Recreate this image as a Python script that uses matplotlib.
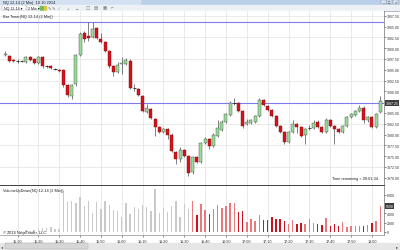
import matplotlib
matplotlib.use("Agg")
import matplotlib.pyplot as plt
from matplotlib.patches import Rectangle, Polygon

plt.rcParams['font.family'] = ['Liberation Sans', 'DejaVu Sans']

W, H = 400, 251

# 2 min bars, first bar 15:04
opens = [3898.50, 3898.25, 3897.25, 3897.00, 3897.00, 3896.75, 3898.00, 3897.50, 3896.50, 3898.00,
         3895.75, 3895.75, 3895.25, 3895.00, 3895.00, 3891.50, 3889.00, 3891.75, 3898.50, 3903.50,
         3902.75, 3902.50, 3904.75, 3902.00, 3901.50, 3899.25, 3895.75, 3894.50, 3896.25, 3896.25,
         3897.00, 3890.75, 3890.50, 3889.00, 3885.25, 3886.00, 3883.50, 3881.75, 3880.50, 3881.25,
         3880.00, 3876.00, 3874.25, 3876.50, 3875.00, 3871.25, 3874.75, 3873.75, 3878.00, 3879.00,
         3877.25, 3879.75, 3881.00, 3883.00, 3884.50, 3887.25, 3887.25, 3885.50, 3882.50, 3882.75,
         3883.00, 3884.25, 3888.00, 3886.50, 3885.75, 3884.25, 3882.00, 3880.50, 3878.25, 3880.50,
         3882.50, 3881.75, 3880.00, 3881.50, 3881.50, 3883.00, 3881.75, 3880.50, 3883.25, 3882.00,
         3881.25, 3880.50, 3882.00, 3884.00, 3884.50, 3885.50, 3886.25, 3883.25, 3884.00, 3881.75,
         3885.25]
highs = [3899.25, 3898.50, 3897.50, 3897.50, 3897.25, 3898.25, 3898.25, 3897.75, 3898.25, 3898.25,
         3896.00, 3896.00, 3895.50, 3895.25, 3895.25, 3891.75, 3891.75, 3898.75, 3903.75, 3904.00,
         3906.00, 3906.00, 3905.00, 3903.50, 3901.75, 3899.50, 3896.00, 3896.75, 3898.00, 3897.75,
         3897.50, 3891.75, 3890.75, 3889.25, 3887.00, 3886.25, 3883.75, 3882.00, 3881.50, 3881.50,
         3880.25, 3876.25, 3877.00, 3876.75, 3875.25, 3875.00, 3875.00, 3878.25, 3879.50, 3879.25,
         3880.25, 3883.25, 3883.25, 3885.00, 3887.75, 3888.50, 3887.50, 3885.75, 3883.50, 3883.50,
         3884.50, 3888.50, 3888.25, 3886.75, 3886.00, 3884.50, 3882.25, 3880.75, 3880.75, 3883.25,
         3882.75, 3882.00, 3881.50, 3882.25, 3883.25, 3883.25, 3882.00, 3883.75, 3883.50, 3882.25,
         3881.50, 3882.25, 3884.25, 3885.00, 3885.75, 3886.75, 3886.50, 3884.25, 3884.25, 3885.00,
         3889.00]
lows = [3898.25, 3896.75, 3896.75, 3896.50, 3896.75, 3896.50, 3897.00, 3896.25, 3896.25, 3895.50,
        3895.50, 3895.25, 3895.00, 3894.50, 3891.00, 3888.75, 3888.25, 3891.25, 3898.25, 3901.50,
        3901.75, 3902.25, 3902.00, 3901.25, 3899.00, 3895.50, 3893.50, 3894.25, 3894.00, 3896.00,
        3890.50, 3890.00, 3889.00, 3885.25, 3885.00, 3883.50, 3879.75, 3880.25, 3880.25, 3879.00,
        3876.00, 3873.25, 3873.75, 3874.75, 3870.50, 3870.75, 3873.50, 3873.50, 3877.75, 3876.75,
        3877.00, 3879.50, 3880.75, 3882.75, 3884.25, 3886.75, 3885.25, 3881.50, 3882.25, 3882.50,
        3882.75, 3884.00, 3886.50, 3885.50, 3884.00, 3881.75, 3880.25, 3877.75, 3878.00, 3880.25,
        3880.25, 3879.50, 3877.75, 3881.00, 3881.25, 3881.50, 3880.25, 3880.25, 3881.75, 3877.75,
        3880.25, 3880.25, 3881.75, 3883.75, 3884.25, 3885.25, 3882.75, 3883.00, 3881.50, 3881.50,
        3885.00]
closes = [3898.75, 3897.00, 3897.00, 3897.00, 3897.00, 3898.00, 3897.25, 3896.50, 3898.00, 3895.75,
          3895.75, 3895.50, 3895.25, 3894.75, 3891.50, 3889.25, 3891.50, 3898.50, 3903.25, 3902.00,
          3902.25, 3904.50, 3902.25, 3901.50, 3899.25, 3895.75, 3894.50, 3896.00, 3896.50, 3897.25,
          3890.75, 3890.75, 3889.25, 3885.50, 3886.25, 3883.75, 3881.75, 3880.50, 3881.25, 3880.00,
          3876.25, 3874.25, 3876.50, 3875.00, 3871.00, 3874.75, 3873.75, 3878.00, 3879.00, 3877.25,
          3880.00, 3881.50, 3883.00, 3884.75, 3887.25, 3887.25, 3885.50, 3882.00, 3883.00, 3883.25,
          3884.25, 3888.00, 3886.75, 3885.75, 3884.25, 3882.00, 3880.50, 3878.25, 3880.50, 3882.50,
          3881.75, 3879.75, 3881.25, 3881.50, 3882.75, 3881.75, 3880.50, 3883.25, 3882.00, 3881.25,
          3880.50, 3882.00, 3884.00, 3884.75, 3885.50, 3886.25, 3883.25, 3884.00, 3881.75, 3884.75,
          3887.75]
volumes = [300, 250, 200, 300, 250, 400, 300, 350, 700, 900,
           800, 1000, 600, 700, 8800, 6450, 6650, 6250, 7500, 5600,
           6650, 4100, 6450, 4950, 6650, 5800, 4750, 4500, 3200, 6250,
           3850, 5400, 4950, 5800, 5400, 4500, 9250, 4100, 5150, 4300,
           5600, 6650, 3200, 6000, 4950, 6650, 3650, 6000, 4730, 3870,
           4950, 5800, 5160, 5590, 6240, 6240, 4300, 4520, 2150, 2800,
           2370, 3660, 2580, 2580, 3230, 2800, 2800, 2370, 1720, 2580,
           1720, 1940, 1720, 2800, 1940, 1720, 1500, 3010, 1290, 1720,
           1290, 2150, 1075, 1290, 1290, 1290, 1290, 1500, 1940, 2370,
           5590]
first_red_volume = 45

time_labels = ['15:10', '15:20', '15:30', '15:40', '15:50', '16:00', '16:10', '16:20', '16:30',
               '16:40', '16:50', '17:00', '17:10', '17:20', '17:30', '17:40', '17:50', '18:00']
time_label_bars = [3, 8, 13, 18, 23, 28, 33, 38, 43, 48, 53, 58, 63, 68, 73, 78, 83, 88]
price_ticks = [3907.50, 3905.00, 3902.50, 3900.00, 3897.50, 3895.00, 3892.50, 3890.00,
               3887.50, 3885.00, 3882.50, 3880.00, 3877.50, 3875.00, 3872.50, 3870.00]
volume_ticks = [0, 2000, 4000, 6000, 8000]
lines_at = [3906.00, 3887.25]

fig = plt.figure(figsize=(4.0, 2.51), dpi=100)
fig.patch.set_facecolor('#f0f0f0')


def px_axes(x, y, w, h):
    return fig.add_axes([x / W, 1 - (y + h) / H, w / W, h / H])


# window chrome
bg = px_axes(0, 0, W, H)
bg.set_xlim(0, W)
bg.set_ylim(H, 0)
bg.axis('off')
bg.add_patch(Rectangle((0, 0), W, 5.5, color='#b9cfea'))
bg.add_patch(Rectangle((0, 0), 140, 5.5, color='#d3e1f3'))
bg.text(3, 2.9, 'NQ 12-14 (2 Min)  10.10.2014', fontsize=2.8, va='center', color='#202020')
for k, g in enumerate(['_', '□', '×']):
    bg.add_patch(Rectangle((381 + k * 6, 0.6), 5, 4.2, facecolor='#dfe7f2', edgecolor='#8090a8', lw=0.3))
    bg.text(383.5 + k * 6, 2.7, g, fontsize=2.8, ha='center', va='center', color='#303030')
bg.add_patch(Rectangle((0, 5.5), W, 6.3, color='#edf1f6'))
bg.add_patch(Rectangle((2, 6.3), 24, 4.6, facecolor='white', edgecolor='#a0a8b4', lw=0.3))
bg.text(3.5, 8.7, 'NQ 12-14 ▾', fontsize=2.6, va='center', color='#202020')
bg.add_patch(Rectangle((27, 6.3), 12, 4.6, facecolor='white', edgecolor='#a0a8b4', lw=0.3))
bg.text(28, 8.7, '2 Min ▾', fontsize=2.6, va='center', color='#202020')
bg.add_patch(Rectangle((40, 6.6), 3, 4, color='#6fbf5a'))
bg.add_patch(Rectangle((43.5, 6.6), 2.5, 4, color='#e3c046'))
for xx, g in [(49, '✎'), (53, '✎'), (59, '⁄'), (68, '+'), (76, '↔'), (88, '▢'), (96, '▤'), (105, '▦'), (112, '⌐')]:
    bg.text(xx, 8.7, g, fontsize=3.2, ha='center', va='center', color='#707070')
bg.plot([0, W], [11.8, 11.8], color='#9098a4', lw=0.5)
bg.add_patch(Rectangle((0, 12), W, 231.5, color='white'))
# scrollbar
bg.add_patch(Rectangle((0, 243.5), W, 7.5, color='#e6e6e6'))
bg.add_patch(Rectangle((4.5, 244.3), 83, 5.8, facecolor='#d6d6d6', edgecolor='#a8a8a8', lw=0.3))
bg.text(2, 247.2, '◂', fontsize=3, ha='center', va='center', color='#404040')
bg.text(397.5, 247.2, '▸', fontsize=3, ha='center', va='center', color='#404040')
# scroll-to-end button
bg.add_patch(Polygon([(375, 15.2), (375, 20), (378.8, 17.6)], color='#101010'))
bg.plot([379.5, 379.5], [15.2, 20], color='#101010', lw=0.8)

xlim = (-1.2, 90.9)
idx = list(range(len(opens)))

# price panel
ax = px_axes(0, 12, 384, 174)
ax.set_xlim(*xlim)
ax.set_ylim(3868.31, 3908.59)
ax.set_facecolor('white')
for i in idx:
    o, c = opens[i], closes[i]
    ax.vlines(i, lows[i], highs[i], color='#3a3a3a', lw=0.45, zorder=3)
    if c == o:
        ax.hlines(o, i - 0.38, i + 0.38, color='#202020', lw=0.6, zorder=4)
        continue
    up = c > o
    ax.bar(i, abs(c - o), bottom=min(o, c), width=0.72,
           color='#98dc98' if up else '#d4121c', edgecolor='#4a4a4a' if up else '#801010',
           lw=0.3, zorder=4)
for lv in lines_at:
    ax.axhline(lv, color='#7c7cec', lw=0.8, zorder=2)
ax.set_xticks(time_label_bars)
ax.set_yticks(price_ticks)
ax.set_yticklabels(['%.2f' % p for p in price_ticks])
ax.yaxis.tick_right()
ax.tick_params(axis='y', labelsize=2.5, length=1.5, width=0.4, pad=0.8, colors='#303030')
ax.tick_params(axis='x', length=0, labelbottom=False)
ax.grid(axis='x', color='#e2e2e2', lw=0.5)
for p in price_ticks[::2]:
    if min(abs(p - lv) for lv in lines_at) > 1:
        ax.axhline(p, color='#e2e2e2', lw=0.5, zorder=1)
# the last-price marker covers the tick label beneath it
for p, lab in zip(price_ticks, ax.get_yticklabels()):
    if abs(p - lines_at[1]) < 1.5:
        lab.set_visible(False)
for s in ['left', 'top']:
    ax.spines[s].set_visible(False)
ax.spines['right'].set_color('#707070')
ax.spines['right'].set_linewidth(0.5)
ax.spines['bottom'].set_color('#404040')
ax.spines['bottom'].set_linewidth(0.7)
ax.text(0.008, 0.985, 'Bar Timer(NQ 12-14 (2 Min))', transform=ax.transAxes, fontsize=2.8,
        va='top', color='#202020')
ax.text(0.985, 0.03, 'Time remaining = 00:01:34', transform=ax.transAxes, fontsize=2.8,
        ha='right', va='bottom', color='#202020')
ax.text(1.004, lines_at[1], '%.2f' % lines_at[1], transform=ax.get_yaxis_transform(),
        fontsize=2.5, color='white', va='center', clip_on=False,
        bbox=dict(boxstyle='square,pad=0.2', fc='#3c3c3c', ec='none'))

# volume panel
axv = px_axes(0, 187, 384, 49)
axv.set_xlim(*xlim)
axv.set_ylim(-650, 9900)
colors = []
for i in idx:
    if i < first_red_volume:
        colors.append('#c9c9c9')
    elif closes[i] >= opens[i]:
        colors.append('#e8787a')
    else:
        colors.append('#c8141e')
axv.bar(idx, volumes, width=0.34, color=colors, zorder=3)
axv.set_xticks(time_label_bars)
axv.set_xticklabels(time_labels)
axv.set_yticks(volume_ticks)
axv.yaxis.tick_right()
axv.tick_params(axis='y', labelsize=2.5, length=1.5, width=0.4, pad=0.8, colors='#303030')
axv.tick_params(axis='x', labelsize=2.7, length=1.2, width=0.4, pad=1.5, colors='#303030')
axv.grid(axis='x', color='#e2e2e2', lw=0.5)
for v, lab in zip(volume_ticks, axv.get_yticklabels()):
    if abs(v - volumes[-1]) < 900:
        lab.set_visible(False)
for s in ['left', 'top']:
    axv.spines[s].set_visible(False)
axv.spines['right'].set_color('#707070')
axv.spines['right'].set_linewidth(0.5)
axv.spines['bottom'].set_color('#909090')
axv.spines['bottom'].set_linewidth(0.5)
axv.text(0.008, 0.96, 'VolumeUpDown(NQ 12-14 (2 Min))', transform=axv.transAxes, fontsize=2.8,
         va='top', color='#202020')
axv.text(0.008, 0.02, '© 2014 NinjaTrader, LLC', transform=axv.transAxes, fontsize=2.8,
         va='bottom', color='#202020')
axv.text(1.004, volumes[-1], str(volumes[-1]), transform=axv.get_yaxis_transform(),
         fontsize=2.5, color='white', va='center', clip_on=False,
         bbox=dict(boxstyle='square,pad=0.2', fc='#3c3c3c', ec='none'))

fig.savefig('out.png', dpi=100, facecolor=fig.get_facecolor())
